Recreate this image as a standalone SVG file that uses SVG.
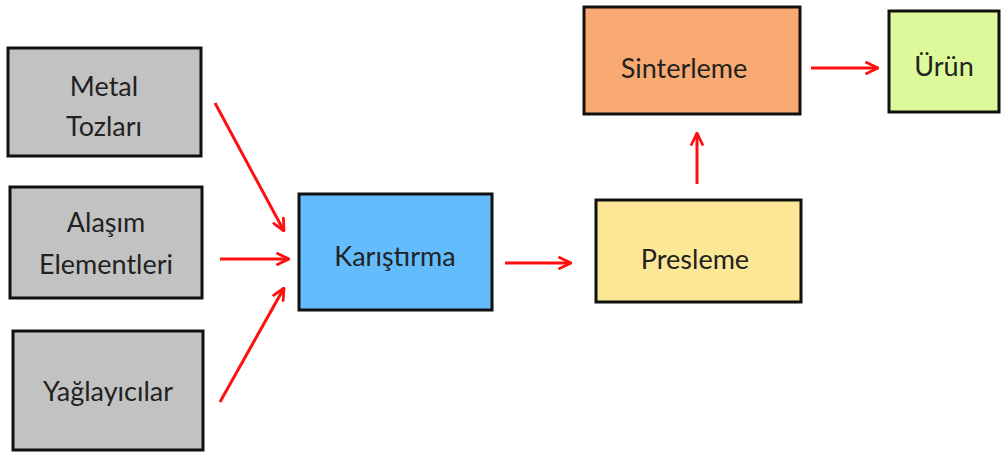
<svg xmlns="http://www.w3.org/2000/svg" width="1001" height="452" viewBox="0 0 1001 452">
<style>
.box{stroke:#111;stroke-width:3}
.t{font-family:Lato,"Open Sans",sans-serif;font-size:27px;fill:#222;text-anchor:middle;dominant-baseline:central}
.c{stroke:#ff1010;stroke-width:3;fill:none}
</style>
<defs>
<marker id="ah" viewBox="0 0 14 14" refX="13" refY="7" markerWidth="14" markerHeight="14" markerUnits="userSpaceOnUse" orient="auto">
<path d="M1.5,1.5 L13,7 L1.5,12.5" fill="none" stroke="#ff1010" stroke-width="2.8" stroke-linecap="round" stroke-linejoin="round"/>
</marker>
</defs>
<rect width="1001" height="452" fill="#fff"/>
<g id="metal"><rect class="box" x="8" y="48" width="193" height="108" fill="#c2c2c2"/><text class="t" x="104" y="85">Metal</text><text class="t" x="104" y="125">Tozları</text></g>
<g id="alasim"><rect class="box" x="10" y="187" width="192" height="111" fill="#c2c2c2"/><text class="t" x="106" y="221">Alaşım</text><text class="t" x="106" y="263">Elementleri</text></g>
<g id="yaglayicilar"><rect class="box" x="13" y="331" width="190" height="119" fill="#c2c2c2"/><text class="t" x="108" y="390">Yağlayıcılar</text></g>
<g id="karistirma"><rect class="box" x="299" y="194" width="193" height="116" fill="#63bdfd"/><text class="t" x="395" y="255">Karıştırma</text></g>
<g id="presleme"><rect class="box" x="596" y="200" width="205" height="102" fill="#fbe796"/><text class="t" x="695" y="258">Presleme</text></g>
<g id="sinterleme"><rect class="box" x="584" y="7" width="216" height="107" fill="#f8aa72"/><text class="t" x="684" y="67">Sinterleme</text></g>
<g id="urun"><rect class="box" x="889" y="11" width="110" height="101" fill="#ddfa9a"/><text class="t" x="944" y="65">Ürün</text></g>
<g id="connectors">
<line class="c" x1="215" y1="103" x2="284" y2="231" marker-end="url(#ah)"/>
<line class="c" x1="220" y1="259" x2="289" y2="259" marker-end="url(#ah)"/>
<line class="c" x1="220" y1="402" x2="284" y2="288" marker-end="url(#ah)"/>
<line class="c" x1="505" y1="263" x2="571" y2="263" marker-end="url(#ah)"/>
<line class="c" x1="697" y1="184" x2="697" y2="133" marker-end="url(#ah)"/>
<line class="c" x1="811" y1="68" x2="878" y2="68" marker-end="url(#ah)"/>
</g>
</svg>
